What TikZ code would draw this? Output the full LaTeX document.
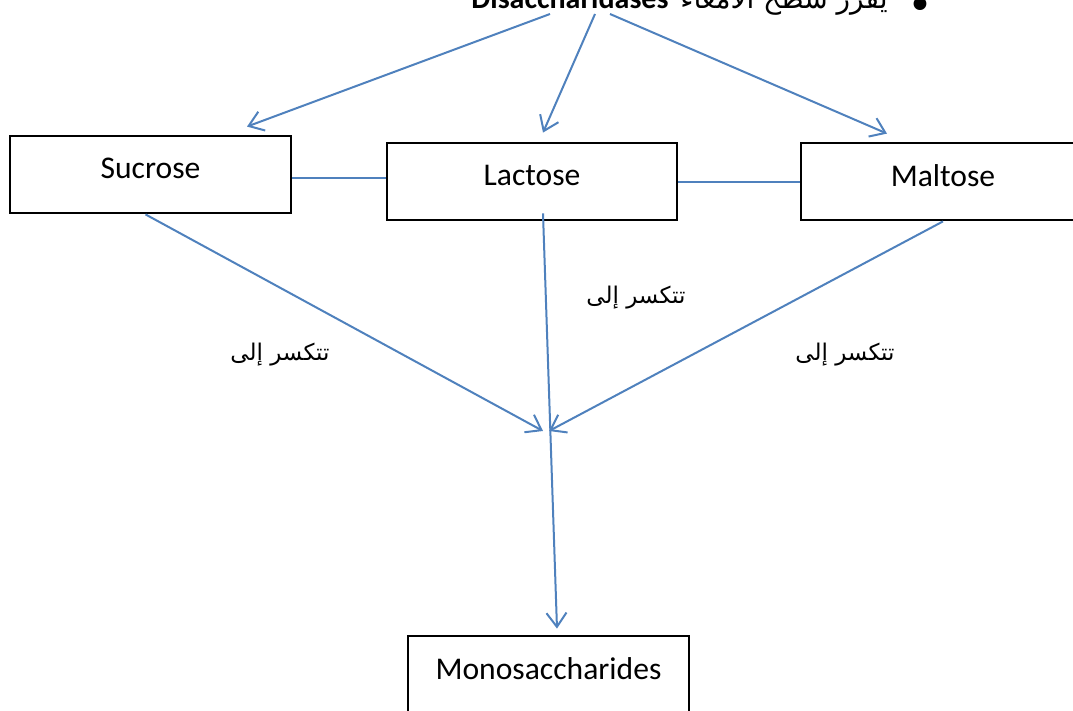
\documentclass[tikz,border=0pt]{standalone}
\usepackage{fontspec}
\setmainfont{Carlito}
\newfontfamily\arabicfont[Script=Arabic]{DejaVu Sans}
\TeXXeTstate=1
\usetikzlibrary{arrows.meta}
\definecolor{linkblue}{RGB}{79,129,189}
\tikzset{
  sugar/.style={draw=black, line width=1.4pt, fill=white, inner sep=0pt,
    minimum height=38.5pt, text depth=6pt, font=\fontsize{15.8}{18}\selectfont},
  link/.style={draw=linkblue, line width=1pt},
  arr/.style={link, -{Straight Barb[length=7pt,width=10pt]}},
  breaks/.style={font=\arabicfont\fontsize{11.5}{13}\selectfont},
}
\begin{document}
\begin{tikzpicture}[x=0.5pt, y=-0.5pt]
	\useasboundingbox (0,0) rectangle (1073,711);
	% Heading (cut by the page edge)
	\node[anchor=base, font=\bfseries\fontsize{15}{18}\selectfont] (enz) at (570,9) {Disaccharidases};
	\node[anchor=base, font=\arabicfont\fontsize{14}{17}\selectfont] (gut) at (784,9) {\beginR يفرز سطح الأمعاء\endR};
	\node[anchor=base, font=\arabicfont\fontsize{22}{24}\selectfont] (dot) at (920,21) {•};
	\coordinate (e1) at (550,14);
	\coordinate (e2) at (595,14);
	\coordinate (e3) at (610,14);
	
	% Sugars
	\node[sugar, minimum width=140.5pt] (suc) at (150.5,174.5) {Sucrose};
	\node[sugar, minimum width=145pt] (lac) at (532,181.5) {Lactose};
	\node[sugar, minimum width=142pt] (mal) at (943,181.5) {Maltose};
	\node[sugar, minimum width=140.5pt] (mono) at (548.5,674.5) {Monosaccharides};
	\coordinate (meet) at (546,431);
	
	% Enzyme arrows
	\draw[arr] (e1) -- ([xshift=48.25pt, yshift=4pt]suc.north);
	\draw[arr] (e2) -- ([xshift=5.5pt, yshift=4.5pt]lac.north);
	\draw[arr] (e3) -- ([xshift=-28pt, yshift=4pt]mal.north);
	
	% Links between the sugars
	\draw[link] ([yshift=-1.75pt]suc.east) -- ([yshift=-1.75pt]suc.east -| lac.west);
	\draw[link] ([yshift=-0.25pt]lac.east) -- ([yshift=-0.25pt]mal.west);
	
	% Breakdown
	\draw[arr] ([xshift=-2.5pt]suc.south) -- ([xshift=-1.5pt]meet);
	\draw[arr] (mal.south) -- ([xshift=1.5pt]meet);
	\draw[arr] ([xshift=5.5pt, yshift=4pt]lac.south) -- ([xshift=4.25pt, yshift=3pt]mono.north);
	
	\node[breaks] (b1) at (280,355) {\beginR تتكسر إلى\endR};
	\node[breaks] (b2) at (636,298) {\beginR تتكسر إلى\endR};
	\node[breaks] (b3) at (845,355) {\beginR تتكسر إلى\endR};
	
\end{tikzpicture}
\end{document}
